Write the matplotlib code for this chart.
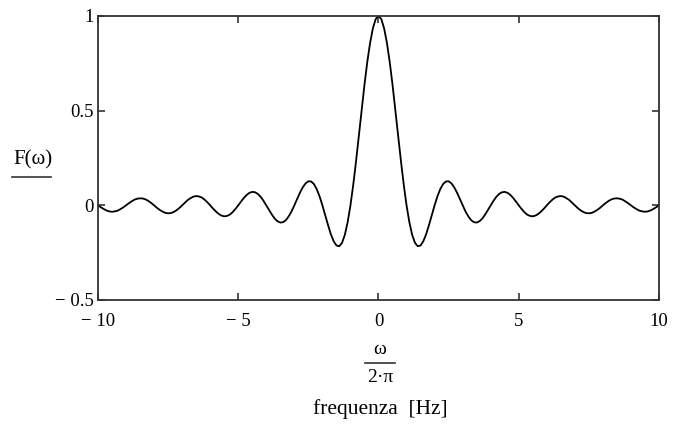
import numpy as np
import matplotlib.pyplot as plt
from matplotlib.lines import Line2D

# frequency axis (Hz), step 0.1 from -10 to 10
freq = [round(-10 + 0.1 * i, 1) for i in range(201)]

# F(omega), positive half (0 .. 10 Hz)
F_pos = [
    1.000, 0.984, 0.935, 0.858, 0.757, 0.637, 0.505, 0.368, 0.234, 0.109,
    0.000, -0.089, -0.156, -0.198, -0.216, -0.212, -0.189, -0.152, -0.104, -0.052,
    0.000, 0.047, 0.085, 0.112, 0.126, 0.127, 0.116, 0.095, 0.067, 0.034,
    0.000, -0.032, -0.058, -0.078, -0.089, -0.091, -0.084, -0.070, -0.049, -0.025,
    0.000, 0.024, 0.045, 0.060, 0.069, 0.071, 0.066, 0.055, 0.039, 0.020,
    0.000, -0.019, -0.036, -0.049, -0.056, -0.058, -0.054, -0.045, -0.032, -0.017,
    0.000, 0.016, 0.030, 0.041, 0.047, 0.049, 0.046, 0.038, 0.028, 0.014,
    0.000, -0.014, -0.026, -0.035, -0.041, -0.042, -0.040, -0.033, -0.024, -0.013,
    0.000, 0.012, 0.023, 0.031, 0.036, 0.037, 0.035, 0.030, 0.021, 0.011,
    0.000, -0.011, -0.020, -0.028, -0.032, -0.034, -0.032, -0.027, -0.019, -0.010,
    0.000,
]
# curve is symmetric about 0
F_vals = F_pos[:0:-1] + F_pos

xticks = [-10, -5, 0, 5, 10]
xticklabels = ["\u2212 10", "\u2212 5", "0", "5", "10"]
yticks = [-0.5, 0, 0.5, 1]
yticklabels = ["\u2212 0.5", "0", "0.5", "1"]

plt.rcParams["font.family"] = ["Liberation Serif", "DejaVu Serif"]

fig = plt.figure(figsize=(6.8, 4.34), dpi=100)
ax = fig.add_axes([98 / 680, 1 - 300 / 434, 561 / 680, 284 / 434])

ax.plot(freq, F_vals, color="black", lw=1.3)

ax.set_xlim(-10, 10)
ax.set_ylim(-0.5, 1)
ax.set_xticks(xticks)
ax.set_xticklabels(xticklabels)
ax.set_yticks(yticks)
ax.set_yticklabels(yticklabels)
ax.tick_params(direction="in", length=5, width=1.2, color="#333333",
               top=True, right=True, labelsize=13.5)
ax.tick_params(axis="x", pad=9)
ax.tick_params(axis="y", pad=3)
for sp in ax.spines.values():
    sp.set_linewidth(1.3)
    sp.set_color("#333333")

# y label: F(omega) with underline
fig.text(33 / 680, 1 - 160 / 434, "F(\u03c9)", ha="center", va="center", fontsize=15)
fig.add_artist(Line2D([12 / 680, 51 / 680], [1 - 177 / 434] * 2, color="#333333", lw=1.2))

# x label: omega / (2 pi)
fig.text(380 / 680, 1 - 350 / 434, "\u03c9", ha="center", va="center", fontsize=14)
fig.add_artist(Line2D([365 / 680, 395 / 680], [1 - 363 / 434] * 2, color="#333333", lw=1.2))
fig.text(380 / 680, 1 - 378 / 434, "2\u00b7\u03c0", ha="center", va="center", fontsize=14)

fig.text(380 / 680, 1 - 409 / 434, "frequenza  [Hz]", ha="center", va="center", fontsize=15.5)

fig.savefig("out.png", dpi=100)
